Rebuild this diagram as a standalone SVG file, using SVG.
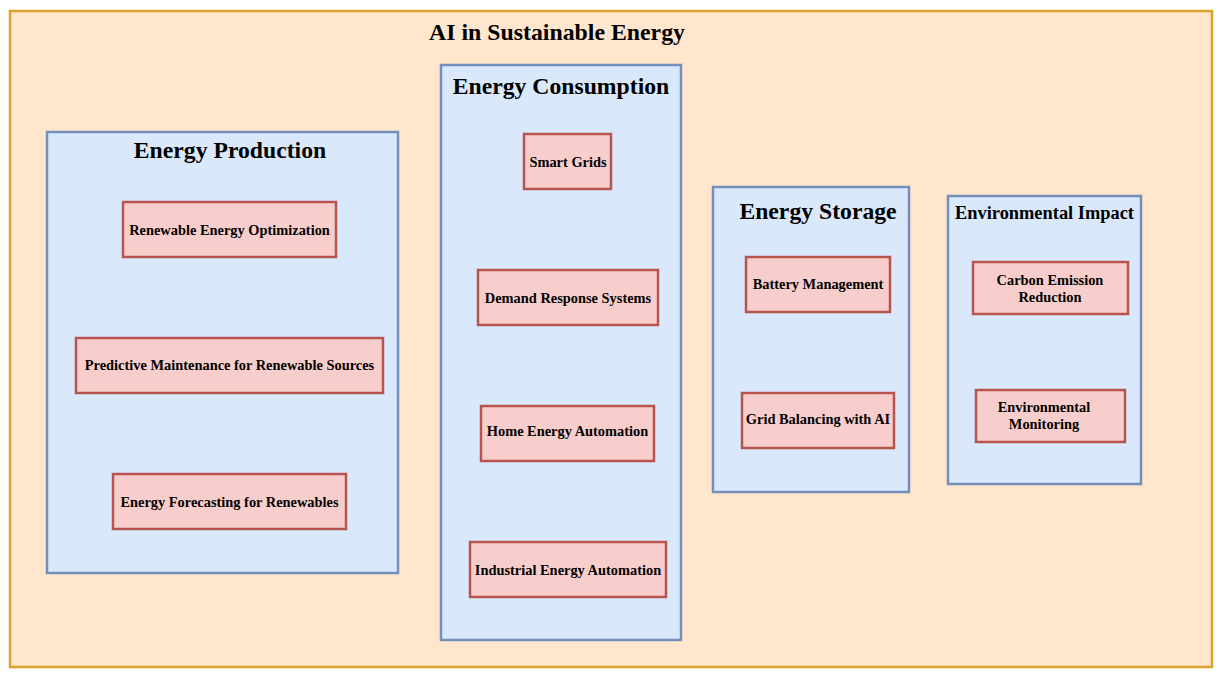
<svg xmlns="http://www.w3.org/2000/svg" width="1226" height="680" viewBox="0 0 1226 680">
<style>
text{font-family:"Liberation Serif","Times New Roman",serif;font-weight:bold;fill:#000;text-anchor:middle}
.outer{fill:#ffe6cc;stroke:#d7a32a;stroke-width:2.5}
.grp{fill:#dae8fc;stroke:#7390bd;stroke-width:2.5}
.node{fill:#f8cecc;stroke:#b85450;stroke-width:2.5}
.t1{font-size:23.8px}
.t2{font-size:23.7px}
.t3{font-size:18.4px}
.n{font-size:14.4px}
</style>
<g id="root">
<rect class="outer" x="10" y="11" width="1202" height="656"/>
<text class="t1" x="557" y="40">AI in Sustainable Energy</text>
</g>
<g id="production">
<rect class="grp" x="47" y="132" width="351" height="441"/>
<text class="t2" x="230" y="158">Energy Production</text>
</g>
<g id="n-reo"><rect class="node" x="123" y="202" width="213" height="55"/><text class="n" x="229.5" y="235">Renewable Energy Optimization</text></g>
<g id="n-pm"><rect class="node" x="76" y="338" width="307" height="55"/><text class="n" x="229.5" y="369.5">Predictive Maintenance for Renewable Sources</text></g>
<g id="n-ef"><rect class="node" x="113" y="474" width="233" height="55"/><text class="n" x="229.5" y="506.5">Energy Forecasting for Renewables</text></g>
<g id="consumption">
<rect class="grp" x="441" y="65" width="240" height="575"/>
<text class="t2" x="561" y="94">Energy Consumption</text>
</g>
<g id="n-sg"><rect class="node" x="524" y="134" width="87" height="55"/><text class="n" x="568" y="167">Smart Grids</text></g>
<g id="n-dr"><rect class="node" x="478" y="270" width="180" height="55"/><text class="n" x="568" y="302.5">Demand Response Systems</text></g>
<g id="n-hea"><rect class="node" x="481" y="406" width="173" height="55"/><text class="n" x="567.5" y="435.5">Home Energy Automation</text></g>
<g id="n-iea"><rect class="node" x="470" y="542" width="196" height="55"/><text class="n" x="568" y="574.5">Industrial Energy Automation</text></g>
<g id="storage">
<rect class="grp" x="713" y="187" width="196" height="305"/>
<text class="t2" x="818" y="219">Energy Storage</text>
</g>
<g id="n-bm"><rect class="node" x="746" y="257" width="144" height="55"/><text class="n" x="818" y="289">Battery Management</text></g>
<g id="n-gb"><rect class="node" x="742" y="393" width="152" height="55"/><text class="n" x="818" y="423.5">Grid Balancing with AI</text></g>
<g id="impact">
<rect class="grp" x="948" y="196" width="193" height="288"/>
<text class="t3" x="1044.5" y="219">Environmental Impact</text>
</g>
<g id="n-cer"><rect class="node" x="973" y="262" width="155" height="52"/><text class="n" x="1050" y="285">Carbon Emission</text><text class="n" x="1050" y="302">Reduction</text></g>
<g id="n-em"><rect class="node" x="976" y="390" width="149" height="52"/><text class="n" x="1044" y="412">Environmental</text><text class="n" x="1044" y="429">Monitoring</text></g>
<g id="connectors"></g>
</svg>
